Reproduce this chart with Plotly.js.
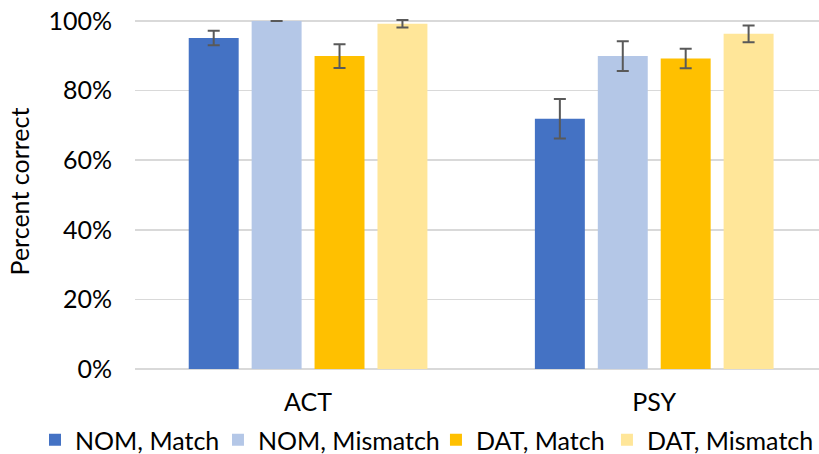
<!DOCTYPE html>
<html>
<head>
<meta charset="utf-8">
<script src="https://cdn.plot.ly/plotly-3.0.1.min.js"></script>
<style>html,body{margin:0;padding:0;background:#fff;}#chart{width:819px;height:454px;}</style>
</head>
<body>
<div id="chart"></div>
<script>
const categories = ["ACT", "PSY"];
const seriesNames = ["NOM, Match", "NOM, Mismatch", "DAT, Match", "DAT, Mismatch"];
const nomMatch = [0.951, 0.719];
const nomMismatch = [1.0, 0.899];
const datMatch = [0.899, 0.892];
const datMismatch = [0.992, 0.963];
const nomMatchErr = [0.021, 0.057];
const nomMismatchErr = [0.0, 0.043];
const datMatchErr = [0.034, 0.028];
const datMismatchErr = [0.011, 0.024];
const colors = ["#4472C4", "#B4C7E7", "#FFC000", "#FFE699"];
const yTicks = [0, 0.2, 0.4, 0.6, 0.8, 1.0];
const yTickLabels = ["0%", "20%", "40%", "60%", "80%", "100%"];

const values = [nomMatch, nomMismatch, datMatch, datMismatch];
const errs = [nomMatchErr, nomMismatchErr, datMatchErr, datMismatchErr];
const FONT = "Lato, 'Open Sans', sans-serif";
const FS = 25;
const legendIds = ["legend", "legend2", "legend3", "legend4"];
const legendX = [-0.1462, 0.1213, 0.4400, 0.6900];

const traces = seriesNames.map((name, i) => ({
  type: "bar",
  name: name,
  x: [0, 1],
  y: values[i],
  legend: legendIds[i],
  marker: {color: colors[i], line: {width: 0}},
  error_y: {type: "data", array: errs[i], visible: true, color: "#595959", thickness: 2, width: 6},
  hoverinfo: "skip"
}));

const layout = {
  width: 819, height: 454,
  margin: {l: 135, r: 0, t: 13.5, b: 85, autoexpand: false},
  paper_bgcolor: "#fff", plot_bgcolor: "#fff",
  barmode: "group",
  bargap: 0.273,
  bargroupgap: 0.206,
  font: {family: FONT, size: FS, color: "#000"},
  xaxis: {
    range: [-0.5, 1.476],
    tickmode: "array", tickvals: [0, 1], ticktext: categories,
    showgrid: false, zeroline: false, showline: false, ticks: "",
    ticklabelstandoff: 16,
    tickfont: {family: FONT, size: FS, color: "#000"},
    fixedrange: true
  },
  yaxis: {
    range: [0, 1.02],
    tickmode: "array", tickvals: yTicks, ticktext: yTickLabels,
    showgrid: true, gridcolor: "#D9D9D9", gridwidth: 1.5,
    zeroline: true, zerolinecolor: "#D9D9D9", zerolinewidth: 1.5,
    showline: false, ticks: "",
    ticklabelstandoff: 22,
    tickfont: {family: FONT, size: FS, color: "#000"},
    title: {text: "Percent correct", font: {family: FONT, size: FS, color: "#000"}, standoff: 11},
    fixedrange: true
  },
  showlegend: true
};
legendIds.forEach((id, i) => {
  layout[id] = {
    orientation: "h",
    x: legendX[i], xanchor: "left",
    y: -0.2, yanchor: "middle",
    font: {family: FONT, size: FS, color: "#000"},
    bgcolor: "rgba(0,0,0,0)",
    itemclick: false
  };
});

Plotly.newPlot("chart", traces, layout, {displayModeBar: false, staticPlot: true});
</script>
</body>
</html>
